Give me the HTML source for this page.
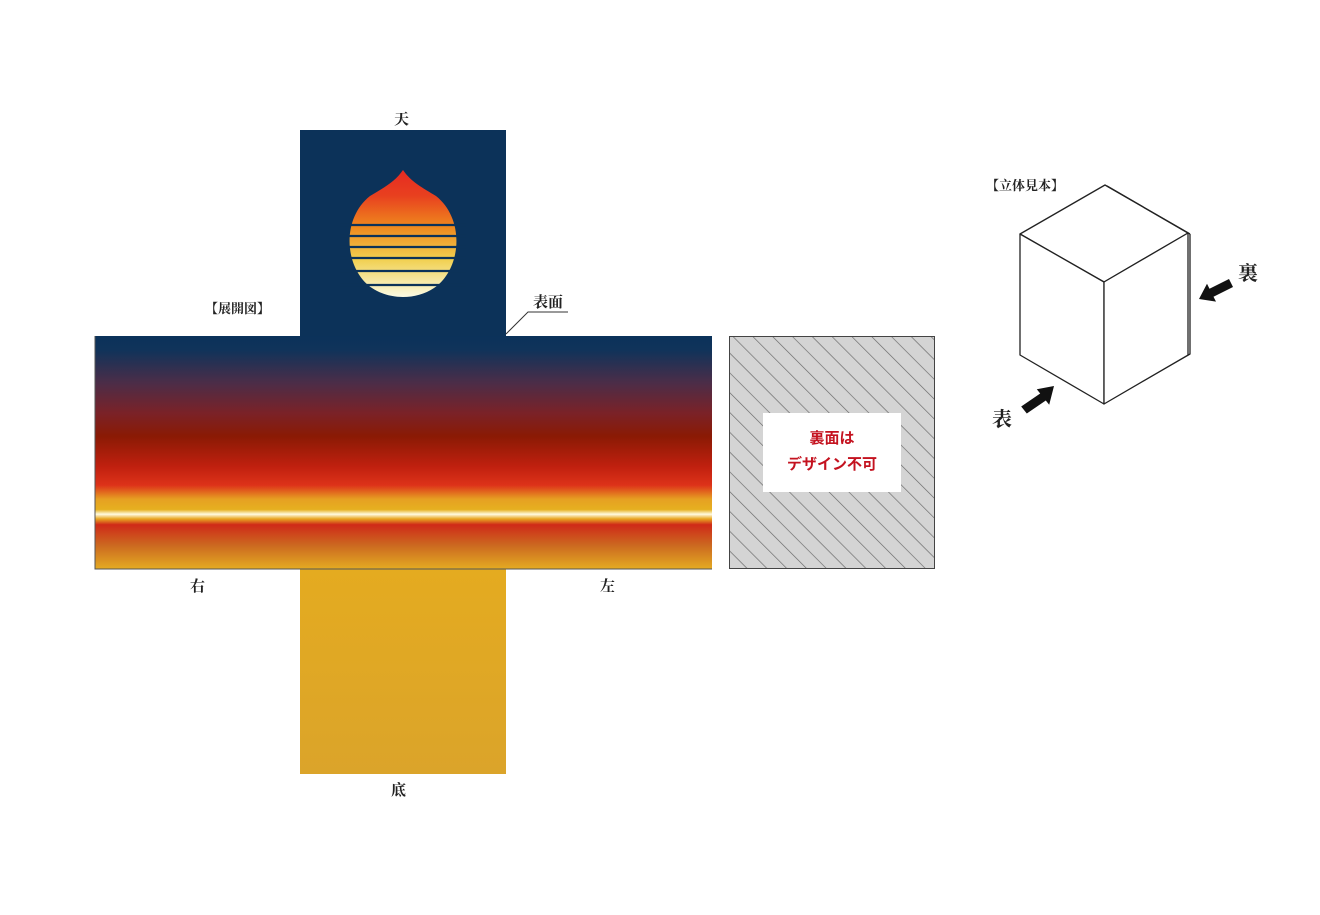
<!DOCTYPE html>
<html><head><meta charset="utf-8"><style>
body{margin:0;width:1320px;height:915px;background:#fff;position:relative;overflow:hidden;font-family:"Liberation Serif","Noto Serif CJK SC",serif}
.t{position:absolute;font-size:15px;color:#222;font-weight:bold}
</style></head><body>
<svg width="1320" height="915" style="position:absolute;left:0;top:0">
<defs>
<linearGradient id="band" x1="0" y1="336" x2="0" y2="569" gradientUnits="userSpaceOnUse">
<stop offset="0" stop-color="#0b325a"/>
<stop offset="0.06" stop-color="#10335a"/>
<stop offset="0.2" stop-color="#4b2d48"/>
<stop offset="0.33" stop-color="#7a2228"/>
<stop offset="0.43" stop-color="#8a1a04"/>
<stop offset="0.56" stop-color="#c0200f"/>
<stop offset="0.64" stop-color="#dd3219"/>
<stop offset="0.7" stop-color="#e6a022"/>
<stop offset="0.745" stop-color="#e6b020"/>
<stop offset="0.765" stop-color="#fffbe0"/>
<stop offset="0.785" stop-color="#e8a622"/>
<stop offset="0.81" stop-color="#cf2a18"/>
<stop offset="0.9" stop-color="#cc6a20"/>
<stop offset="1" stop-color="#e4ab22"/>
</linearGradient>
<linearGradient id="bot" x1="0" y1="0" x2="0" y2="1"><stop offset="0" stop-color="#e4ab20"/><stop offset="1" stop-color="#dba42a"/></linearGradient>
<linearGradient id="drop" x1="0" y1="170" x2="0" y2="298" gradientUnits="userSpaceOnUse">
<stop offset="0" stop-color="#e62a22"/><stop offset="0.2" stop-color="#e8401f"/><stop offset="0.45" stop-color="#ef8a1e"/><stop offset="0.7" stop-color="#f1d050"/><stop offset="1" stop-color="#fbfbe8"/></linearGradient>
<pattern id="hatch" width="14" height="14" patternUnits="userSpaceOnUse" patternTransform="rotate(-45)">
<rect width="14" height="14" fill="#d4d4d4"/><line x1="0" y1="0" x2="0" y2="14" stroke="#666" stroke-width="1.3"/></pattern>
</defs>
<rect x="300" y="130" width="206" height="207" fill="#0c3259"/>
<rect x="95" y="336" width="617" height="233" fill="url(#band)"/>
<rect x="300" y="568" width="206" height="206" fill="url(#bot)"/>
<path d="M95 336V569H712" fill="none" stroke="#555" stroke-width="1"/>
<path d="M403 170 C395 182 383 188 370 196 C340 220 345 270 372 288 C390 300 416 300 434 288 C461 270 466 220 436 196 C423 188 411 182 403 170Z" fill="url(#drop)"/>
<g stroke="#0c3259" stroke-width="2.2">
<line x1="340" y1="225" x2="466" y2="225"/><line x1="340" y1="236" x2="466" y2="236"/><line x1="340" y1="247" x2="466" y2="247"/><line x1="340" y1="258" x2="466" y2="258"/><line x1="340" y1="271" x2="466" y2="271"/><line x1="340" y1="285" x2="466" y2="285"/></g>
<polyline points="506,334 528,312 568,312" fill="none" stroke="#333" stroke-width="1"/>
<rect x="729.5" y="336.5" width="205" height="232" fill="url(#hatch)" stroke="#444"/>
<rect x="763" y="413" width="138" height="79" fill="#fff"/>
<g fill="#fff" stroke="#222" stroke-width="1.3" stroke-linejoin="round">
<path d="M1190 234 V354 L1105 403" fill="none"/>
<path d="M1105 185 L1020 234 L1104 282 L1188 233 Z"/>
<path d="M1020 234 L1104 282 V404 L1020 355 Z"/>
<path d="M1104 282 L1188 233 V355 L1104 404 Z"/>
<path d="M1107 186 L1190 234" fill="none"/>
</g>
<polygon points="1026.8,413.5 1045.8,400.5 1049.2,404.8 1054,386 1036.8,389.2 1040.2,393.5 1021.2,406.5" fill="#111"/>
<polygon points="1233,287 1213.5,296.7 1216,301.6 1199,299 1207,283.8 1209.5,288.7 1229,279" fill="#111"/>
</svg>
<div class="t" style="left:394px;top:108px">天</div>
<div class="t" style="left:205px;top:298px;font-size:13px">【展開図】</div>
<div class="t" style="left:533px;top:291px">表面</div>
<div class="t" style="left:190px;top:575px">右</div>
<div class="t" style="left:600px;top:575px">左</div>
<div class="t" style="left:391px;top:779px">底</div>
<div class="t" style="left:986px;top:175px;font-size:13px">【立体見本】</div>
<div class="t" style="left:1238px;top:257px;font-size:20px">裏</div>
<div class="t" style="left:992px;top:403px;font-size:20px">表</div>
<div style="position:absolute;left:763px;top:426px;width:138px;text-align:center;color:#c4121f;font-weight:bold;font-size:15px;line-height:26px;font-family:'Liberation Sans','Noto Sans CJK JP',sans-serif">裏面は<br>デザイン不可</div>
</body></html>
